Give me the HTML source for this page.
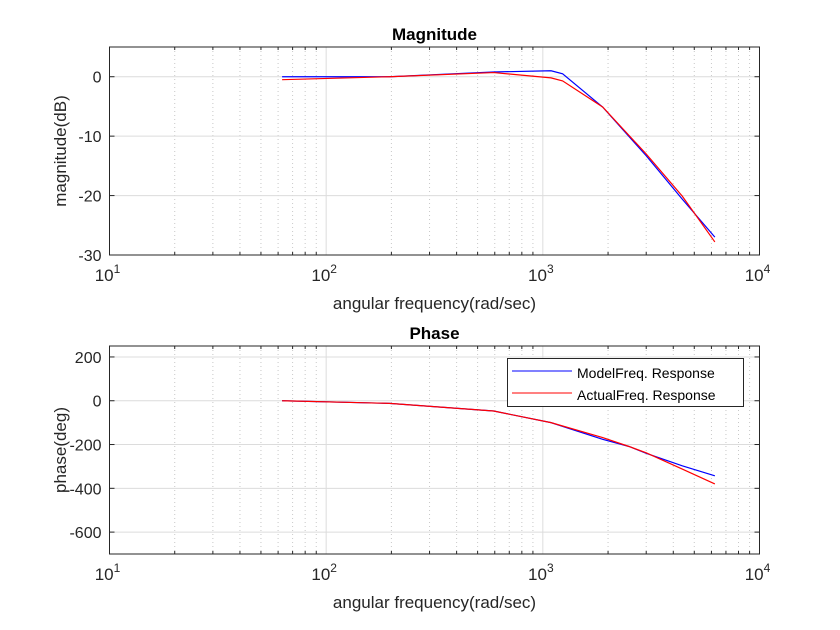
<!DOCTYPE html>
<html><head><meta charset="utf-8"><style>
body{margin:0;background:#fff;}
svg{display:block;font-family:"Liberation Sans",Arial,sans-serif;}
</style></head><body>
<svg id="chart" width="840" height="630" viewBox="0 0 840 630"></svg>
<script>
const magFreq=[62.6,196,593,1091,1234,1888,3000,4400,6222];
const magModel=[0,0,0.8,1.0,0.5,-5.1,-13.3,-20.6,-27.0];
const magActual=[-0.5,0,0.7,-0.2,-0.7,-5.1,-13.0,-20.1,-27.8];
const phFreq=[62.6,196,593,1091,1888,2500,3000,4400,6222];
const phModel=[0,-12,-47,-100,-176,-209,-240,-297,-343];
const phActual=[0,-12,-47,-100,-168,-209,-238,-312,-380];
const magTicks=[0,-10,-20,-30];
const phTicks=[200,0,-200,-400,-600];
const xTicks=[1,2,3,4];

const NS="http://www.w3.org/2000/svg";
const svg=document.getElementById('chart');
function el(tag,attrs,parent,text){const e=document.createElementNS(NS,tag);for(const k in attrs)e.setAttribute(k,attrs[k]);if(text!==undefined)e.textContent=text;(parent||svg).appendChild(e);return e;}
const X0=109.5,X1=759.5;
function xs(f){return X0+(Math.log10(f)-1)/3*(X1-X0);}

function axes(name,top,bot,ymin,ymax,ticks,title,ylabel,mA,mB,freq){
  const g=el('g',{},svg);
  
  
  const ys=v=>bot-(v-ymin)/(ymax-ymin)*(bot-top);
  for(let d=1;d<=3;d++)for(let m=2;m<=9;m++){const x=xs(m*Math.pow(10,d));
    el('line',{x1:x,x2:x,y1:top,y2:bot,stroke:'#c8c8c8','stroke-dasharray':'1,3','stroke-width':1},g);
    el('line',{x1:x,x2:x,y1:bot,y2:bot-3,stroke:'#262626'},g);
    el('line',{x1:x,x2:x,y1:top,y2:top+3,stroke:'#262626'},g);}
  for(const t of xTicks){const x=xs(Math.pow(10,t));
    el('line',{x1:x,x2:x,y1:top,y2:bot,stroke:'#dcdcdc'},g);
    const tl=el('text',{x:x-2,y:bot+26,'font-size':17,fill:'#262626','text-anchor':'middle'},g,'10');
    
    
    el('tspan',{dy:-8,'font-size':12},tl,String(t));}
  for(const t of ticks){const y=ys(t);
    el('line',{x1:X0,x2:X1,y1:y,y2:y,stroke:'#dcdcdc'},g);
    el('line',{x1:X0,x2:X0+5,y1:y,y2:y,stroke:'#262626'},g);
    el('line',{x1:X1,x2:X1-5,y1:y,y2:y,stroke:'#262626'},g);
    const yl=el('text',{x:X0-8,y:y+6,'font-size':16,fill:'#262626','text-anchor':'end'},g,String(t));
    
    }
  el('rect',{x:X0,y:top,width:X1-X0,height:bot-top,fill:'none',stroke:'#262626','stroke-width':1},g);
  const tt=el('text',{x:(X0+X1)/2,y:top-7,'font-size':17,'font-weight':'bold','text-anchor':'middle',fill:'#000'},g,title);
  
  
  const xl=el('text',{x:(X0+X1)/2,y:bot+54,'font-size':17,'text-anchor':'middle',fill:'#262626'},g,'angular frequency(rad/sec)');
  
  
  const cy=(top+bot)/2;
  const yt=el('text',{x:0,y:0,'font-size':17,'text-anchor':'middle',fill:'#262626',transform:`translate(66,${cy}) rotate(-90)`},g,ylabel);
  
  
  const pb=el('polyline',{points:freq.map((f,i)=>xs(f)+','+ys(mA[i])).join(' '),fill:'none',stroke:'#0000ff','stroke-width':1.2},g);
  
  
  const pr=el('polyline',{points:freq.map((f,i)=>xs(f)+','+ys(mB[i])).join(' '),fill:'none',stroke:'#ff0000','stroke-width':1.2},g);
  
  
  return g;
}
axes('magnitude-axes',47,255,-30,5,magTicks,'Magnitude','magnitude(dB)',magModel,magActual,magFreq);
const pg=axes('phase-axes',346,554,-700,250,phTicks,'Phase','phase(deg)',phModel,phActual,phFreq);
const lg=el('g',{},pg);


el('rect',{x:507.5,y:358.5,width:236,height:48,fill:'#fff',stroke:'#262626'},lg);
el('line',{x1:512,x2:572,y1:371,y2:371,stroke:'#0000ff'},lg);
el('line',{x1:512,x2:572,y1:393,y2:393,stroke:'#ff0000'},lg);
const l1=el('text',{x:577,y:378,'font-size':14,fill:'#000'},lg,'ModelFreq. Response');


const l2=el('text',{x:577,y:400,'font-size':14,fill:'#000'},lg,'ActualFreq. Response');


</script>
</body></html>
